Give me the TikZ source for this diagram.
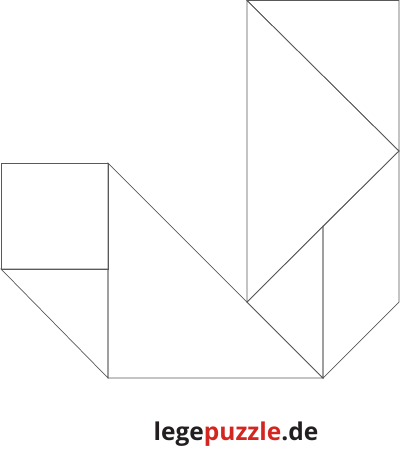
\documentclass[tikz,border=0pt]{standalone}
\usepackage{fontspec}
\setmainfont{Open Sans}
\definecolor{puzzlered}{RGB}{212,38,32}
\definecolor{puzzlegray}{RGB}{35,31,32}
\tikzset{piece/.style={draw=black!65, line width=0.7pt, line join=miter}}

\begin{document}
\begin{tikzpicture}[x=1pt,y=-1pt]
		\useasboundingbox (0,0) rectangle (400,451);
		\coordinate (sqa) at (1,163);
		\coordinate (sqb) at (108,163);
		\coordinate (sqc) at (108,269);
		\coordinate (sqd) at (1,269);
		\coordinate (bl) at (108,378);
		\coordinate (br) at (323,378);
		\coordinate (mid) at (247,302);
		\coordinate (top) at (247,0.5);
		\coordinate (tr) at (399,0.5);
		\coordinate (peak) at (399,151);
		\coordinate (inner) at (323,226);
		\coordinate (rb) at (399,302);
		\draw [piece] (sqa) -- (sqb) -- (sqc) -- (sqd) -- cycle;
		\draw [piece] (sqd) -- (sqc) -- (bl) -- cycle;
		\draw [piece] (sqb) -- (br) -- (bl) -- cycle;
		\draw [piece] (top) -- (tr) -- (peak) -- cycle;
		\draw [piece] (top) -- (peak) -- (mid) -- cycle;
		\draw [piece] (mid) -- (inner) -- (br) -- cycle;
		\draw [piece] (inner) -- (peak) -- (rb) -- (br) -- cycle;
		\node[anchor=base, font=\fontsize{24.5}{26}\selectfont\bfseries, inner sep=0pt](logo) at (236,440)
		{\textcolor{puzzlegray}{lege}\textcolor{puzzlered}{puzzle}\textcolor{puzzlegray}{.de}};
	\end{tikzpicture}
\end{document}
